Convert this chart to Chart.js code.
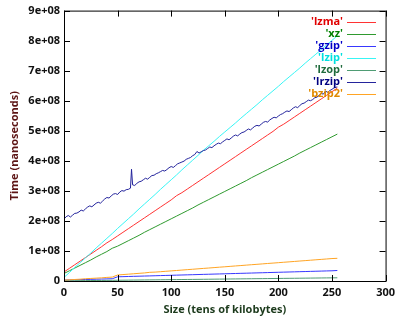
<!DOCTYPE html>
<html>
<head>
<meta charset="utf-8">
<script src="https://cdn.jsdelivr.net/npm/chart.js@4/dist/chart.umd.min.js"></script>
<style>
  html, body { margin: 0; padding: 0; background: #fff; }
</style>
</head>
<body>
<canvas id="timeChart" width="400" height="320"></canvas>
<script>
// sizes in tens of kilobytes, times in millions of nanoseconds
const sizes = [0, 5, 10, 15, 20, 25, 30, 35, 40, 45, 50, 55, 60, 65, 70, 75, 80, 85, 90, 95,
  100, 105, 110, 115, 120, 125, 130, 135, 140, 145, 150, 155, 160, 165, 170, 175, 180, 185, 190, 195,
  200, 205, 210, 215, 220, 225, 230, 235, 240, 245, 250, 255];

const lzma = [30, 42, 54, 66, 78, 90, 102, 114, 127, 138, 150, 162, 174, 186, 198, 210, 222, 234, 246, 258,
  270, 284, 294, 306, 318, 330, 342, 354, 366, 378, 390, 402, 414, 426, 438, 450, 462, 474, 486, 498,
  512, 522, 534, 546, 558, 570, 582, 594, 606, 618, 630, 642];
const xz = [25, 34, 43, 52, 61, 70, 80, 89, 98, 109, 116, 125, 134, 143, 152, 162, 171, 180, 189, 198,
  207, 216, 225, 234, 243, 253, 262, 271, 280, 289, 298, 307, 316, 325, 334, 344, 353, 362, 371, 380,
  389, 398, 407, 416, 426, 435, 444, 453, 462, 471, 480, 489];
const gzip = [3, 3.5, 4, 4.5, 5, 5.5, 6, 6.5, 7, 7.5, 14, 14.5, 15, 15.5, 16, 16.5, 17, 17.5, 18, 18.5,
  19, 19.5, 20, 20.5, 21, 21.5, 22, 22.5, 23, 23.5, 24, 24.5, 25, 25.5, 26, 26.5, 27, 27.5, 28, 28.5,
  29, 29.5, 30, 30.5, 31, 31.5, 32, 32.5, 33, 33.5, 34, 35];
const lzip = [12, 28, 45, 61, 77, 93, 110, 126, 142, 158, 175, 191, 207, 223, 240, 256, 272, 288, 305, 321,
  337, 353, 370, 386, 402, 418, 435, 450, 465, 481, 496, 511, 526, 542, 557, 572, 587, 603, 618, 633,
  648, 664, 679, 694, 709, 725, 740, 755, 770, 786, 801, 816];
const lzop = [0.5, 0.7, 0.9, 1.1, 1.3, 1.5, 1.7, 1.9, 2.1, 2.3, 2.5, 2.7, 2.9, 3.1, 3.3, 3.5, 3.7, 3.9, 4.1, 4.3,
  4.5, 4.7, 4.9, 5.1, 5.3, 5.5, 5.7, 5.9, 6.1, 6.3, 6.5, 6.7, 6.9, 7.1, 7.3, 7.5, 7.7, 7.9, 8.1, 8.3,
  8.5, 8.7, 8.9, 9.1, 9.3, 9.5, 9.7, 9.9, 10.1, 10.3, 10.5, 10.7];
const bzip2 = [3, 4, 5, 6, 7.5, 8.5, 9.5, 10.5, 12, 13, 20, 21.4, 22.7, 24.1, 25.5, 26.8, 28.9, 29.6, 30.9, 32.3,
  33.7, 35.0, 36.4, 37.8, 39.1, 40.5, 41.9, 43.2, 44.6, 46.0, 47.3, 48.7, 50.1, 51.4, 52.8, 54.2, 55.5, 56.9, 58.3, 59.6,
  61.0, 62.4, 63.7, 65.1, 66.5, 67.8, 69.2, 70.6, 71.9, 73.3, 74.7, 75.5];

// lrzip is noisier, so it gets its own, denser sample positions
const lrzipSizes = [0, 2, 4, 6, 8, 10, 12, 14, 16, 18, 20, 22, 24, 26, 28, 30, 32, 34, 36, 38,
  40, 42, 44, 46, 48, 50, 52, 54, 56, 58, 60, 62, 63, 64, 66, 68, 70, 72, 74, 76,
  78, 80, 82, 84, 86, 88, 90, 92, 94, 96, 98, 100, 102, 104, 106, 108, 110, 112, 114, 116,
  118, 120, 122, 124, 126, 128, 130, 132, 134, 136, 138, 140, 142, 144, 146, 148, 150, 152, 154, 156,
  158, 160, 162, 164, 166, 168, 170, 172, 174, 176, 178, 180, 182, 184, 186, 188, 190, 192, 194, 196,
  198, 200, 202, 204, 206, 208, 210, 212, 214, 216, 218, 220, 222, 224, 226, 228, 230, 232, 234, 236,
  238, 240, 242, 244, 246, 248, 250, 252, 255];
const lrzip = [206, 214, 218, 213, 219, 225, 226, 230, 236, 233, 240, 246, 250, 247, 253, 259, 262, 259, 266, 273,
  278, 276, 283, 289, 291, 288, 296, 301, 299, 304, 305, 309, 372, 320, 318, 325, 330, 332, 337, 342,
  339, 345, 351, 352, 357, 360, 364, 368, 366, 371, 377, 381, 378, 384, 390, 393, 396, 399, 405, 408,
  411, 417, 421, 431, 426, 430, 434, 436, 441, 446, 444, 450, 455, 459, 457, 463, 468, 473, 470, 476,
  482, 486, 483, 489, 494, 496, 501, 506, 503, 509, 515, 518, 516, 522, 528, 531, 529, 536, 541, 545,
  543, 549, 554, 557, 562, 566, 564, 570, 576, 580, 577, 584, 590, 592, 597, 602, 600, 604, 610, 612,
  618, 624, 622, 632, 628, 634, 638, 643, 646];

const seriesNames = ['lzma', 'xz', 'gzip', 'lzip', 'lzop', 'lrzip', 'bzip2'];
const lineColors = ['#ff3333', '#2f9a2f', '#3838ff', '#38f5f5', '#4f9c74', '#24249c', '#ffa424'];
const keyColors = ['#e00000', '#008000', '#0000c8', '#00e0e0', '#1f6b3c', '#000080', '#e08a00'];

const yTickLabels = ['0', '1e+08', '2e+08', '3e+08', '4e+08', '5e+08', '6e+08', '7e+08', '8e+08', '9e+08'];

function toPoints(xs, ys) {
  return xs.map((x, i) => ({ x: x, y: ys[i] * 1e6 }));
}

const allSeries = [
  toPoints(sizes, lzma),
  toPoints(sizes, xz),
  toPoints(sizes, gzip),
  toPoints(sizes, lzip),
  toPoints(sizes, lzop),
  toPoints(lrzipSizes, lrzip),
  toPoints(sizes, bzip2)
];

const FONT = '"Open Sans", "DejaVu Sans", sans-serif';

// gnuplot style border with inward ticks on every side
const frame = {
  id: 'frame',
  afterDraw(chart) {
    const c = chart.ctx;
    const a = chart.chartArea;
    const xs = chart.scales.x, ys = chart.scales.y;
    c.save();
    c.strokeStyle = '#000';
    c.lineWidth = 1;
    c.beginPath();
    ys.ticks.forEach(t => {
      const y = Math.round(ys.getPixelForValue(t.value)) + 0.5;
      c.moveTo(a.left, y); c.lineTo(a.left + 6, y);
      c.moveTo(a.right, y); c.lineTo(a.right - 6, y);
    });
    xs.ticks.forEach(t => {
      const x = Math.round(xs.getPixelForValue(t.value)) + 0.5;
      c.moveTo(x, a.bottom); c.lineTo(x, a.bottom - 6);
      c.moveTo(x, a.top); c.lineTo(x, a.top + 6);
    });
    c.stroke();
    c.strokeRect(a.left + 0.5, a.top + 0.5, a.right - a.left, a.bottom - a.top);
    c.restore();
  }
};

const key = {
  id: 'key',
  afterDatasetsDraw(chart) {
    const c = chart.ctx;
    c.save();
    c.font = 'bold 11px ' + FONT;
    c.textAlign = 'right';
    c.textBaseline = 'middle';
    chart.data.datasets.forEach((ds, i) => {
      const y = 22 + i * 12;
      c.fillStyle = keyColors[i];
      c.fillText("'" + ds.label + "'", 343, y);
      c.strokeStyle = ds.borderColor;
      c.lineWidth = 1;
      c.beginPath();
      c.moveTo(347, y + 0.5);
      c.lineTo(376, y + 0.5);
      c.stroke();
    });
    c.restore();
  }
};

const ctx = document.getElementById('timeChart').getContext('2d');
const timeChart = new Chart(ctx, {
  type: 'line',
  data: {
    datasets: seriesNames.map((name, i) => ({
      label: name,
      data: allSeries[i],
      borderColor: lineColors[i],
      borderWidth: 1,
      pointRadius: 0,
      tension: 0,
      fill: false,
      order: 7 - i
    }))
  },
  options: {
    responsive: false,
    animation: false,
    events: [],
    layout: { padding: { top: 10, right: 13, bottom: 0, left: 0 } },
    plugins: { legend: { display: false }, tooltip: { enabled: false } },
    scales: {
      x: {
        type: 'linear',
        min: 0,
        max: 300,
        grid: { display: false, drawTicks: false },
        border: { display: false },
        ticks: {
          stepSize: 50,
          padding: 5,
          color: '#111',
          font: { family: FONT, size: 11, weight: 'bold' }
        },
        title: {
          display: true,
          text: 'Size (tens of kilobytes)',
          color: '#1c3a1c',
          padding: { top: 0, bottom: 4 },
          font: { family: FONT, size: 11, weight: 'bold' }
        },
        afterFit(s) { s.height = 39; }
      },
      y: {
        min: 0,
        max: 9e8,
        grid: { display: false, drawTicks: false },
        border: { display: false },
        ticks: {
          stepSize: 1e8,
          padding: 4,
          color: '#111',
          font: { family: FONT, size: 11, weight: 'bold' },
          callback: (v, i) => yTickLabels[i]
        },
        title: {
          display: true,
          text: 'Time (nanoseconds)',
          color: '#5c1414',
          padding: { top: 8, bottom: 0 },
          font: { family: FONT, size: 11, weight: 'bold' }
        },
        afterFit(s) { s.width = 64; }
      }
    }
  },
  plugins: [key, frame]
});
</script>
</body>
</html>
